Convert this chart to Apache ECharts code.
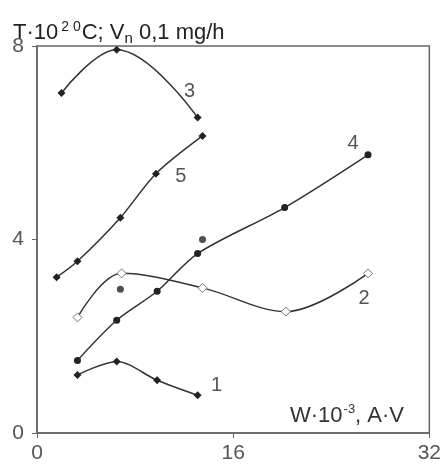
<!DOCTYPE html>
<html>
<head>
<meta charset="utf-8">
<script src="https://cdn.jsdelivr.net/npm/echarts@6/dist/echarts.min.js"></script>
<style>html,body{margin:0;padding:0;background:#fff}#c{width:444px;height:464px}</style>
</head>
<body>
<div id="c"></div>
<script>
// Data (x = W·10^-3, A·V ; y = T·10^2 °C)
var s1x = [3.3, 6.5, 9.8, 13.1];
var s1y = [1.2, 1.48, 1.09, 0.78];
var s2x = [3.3, 6.9, 13.5, 20.3, 27.0];
var s2y = [2.39, 3.3, 3.0, 2.51, 3.3];
var s3x = [2.0, 6.5, 13.1];
var s3y = [7.03, 7.92, 6.52];
var s4x = [3.3, 6.5, 9.8, 13.1, 20.2, 27.0];
var s4y = [1.5, 2.33, 2.93, 3.71, 4.66, 5.75];
var s5x = [1.6, 3.3, 6.8, 9.7, 13.5];
var s5y = [3.22, 3.55, 4.45, 5.36, 6.14];
var extraX = [6.8, 13.5];
var extraY = [2.97, 4.0];
var seriesNames = ['1', '2', '3', '4', '5'];
var xTicks = [0, 16, 32];
var yTicks = [0, 4, 8];

function pairs(xs, ys) { return xs.map(function (x, i) { return [x, ys[i]]; }); }

var FONT = 'Liberation Sans, Arial, sans-serif';
var lineColor = '#333';
var labelStyle = { color: '#555', fontSize: 20, fontFamily: FONT };

function withLabel(data, idx, name, offset) {
  return data.map(function (d, i) {
    if (i !== idx) return d;
    return { value: d, label: Object.assign({ show: true, position: 'inside', offset: offset, formatter: name }, labelStyle) };
  });
}

var chart = echarts.init(document.getElementById('c'), null, { renderer: 'canvas' });
var option = {
  animation: false,
  backgroundColor: '#fff',
  grid: { left: 37, right: 11, top: 46, bottom: 29, show: true, borderColor: '#666', borderWidth: 1.5, backgroundColor: 'transparent' },
  xAxis: {
    type: 'value', min: 0, max: 32, interval: 16,
    axisLine: { lineStyle: { color: '#666', width: 1.5 } },
    axisTick: { show: true, length: 5, lineStyle: { color: '#666' } },
    axisLabel: { color: '#555', fontSize: 21, fontFamily: FONT, margin: 10,
      formatter: function (v) { return xTicks.indexOf(v) >= 0 ? String(v) : ''; } },
    splitLine: { show: false }
  },
  yAxis: {
    type: 'value', min: 0, max: 8, interval: 4,
    axisLine: { show: true, lineStyle: { color: '#666', width: 1.5 } },
    axisTick: { show: true, length: 5, lineStyle: { color: '#666' } },
    axisLabel: { color: '#555', fontSize: 21, fontFamily: FONT, margin: 13,
      formatter: function (v) { return yTicks.indexOf(v) >= 0 ? String(v) : ''; } },
    splitLine: { show: false }
  },
  graphic: [
    {
      type: 'text', left: 13, top: 20,
      style: {
        text: '{m|T·10}{sup|2 0}{m|C; V}{sub|n}{m| 0,1 mg/h}',
        rich: {
          m: { fontSize: 22, fill: '#222', fontFamily: FONT, lineHeight: 26 },
          sup: { fontSize: 14, fill: '#222', fontFamily: FONT, verticalAlign: 'top', padding: [0, 1, 10, 3], lineHeight: 26 },
          sub: { fontSize: 15, fill: '#222', fontFamily: FONT, verticalAlign: 'bottom', padding: [8, 0, 0, 0], lineHeight: 26 }
        }
      }
    },
    {
      type: 'text', left: 290, top: 403,
      style: {
        text: '{m|W·10}{sup|-3}{m|, A·V}',
        rich: {
          m: { fontSize: 22, fill: '#333', fontFamily: FONT, lineHeight: 26 },
          sup: { fontSize: 13, fill: '#333', fontFamily: FONT, verticalAlign: 'top', padding: [0, 0, 10, 1], lineHeight: 26 }
        }
      }
    }
  ],
  series: [
    { name: seriesNames[0], type: 'line', smooth: 0.3, data: withLabel(pairs(s1x, s1y), 3, '1', [19, -10]),
      symbol: 'diamond', symbolSize: 8, itemStyle: { color: '#222' }, lineStyle: { color: lineColor, width: 1.5 } },
    { name: seriesNames[1], type: 'line', smooth: 0.35, data: withLabel(pairs(s2x, s2y), 4, '2', [-4, 25]),
      symbol: 'diamond', symbolSize: 9, showAllSymbol: true, itemStyle: { color: '#fff', borderColor: '#777', borderWidth: 1 }, lineStyle: { color: lineColor, width: 1.5 } },
    { name: seriesNames[2], type: 'line', smooth: 0.4, data: withLabel(pairs(s3x, s3y), 2, '3', [-8, -26]),
      symbol: 'diamond', symbolSize: 8, itemStyle: { color: '#222' }, lineStyle: { color: lineColor, width: 1.5 } },
    { name: seriesNames[3], type: 'line', smooth: 0.3, data: withLabel(pairs(s4x, s4y), 5, '4', [-15, -11]),
      symbol: 'circle', symbolSize: 7, itemStyle: { color: '#222' }, lineStyle: { color: lineColor, width: 1.5 } },
    { name: seriesNames[4], type: 'line', smooth: 0.3, data: withLabel(pairs(s5x, s5y), 3, '5', [25, 3]),
      symbol: 'diamond', symbolSize: 8, itemStyle: { color: '#222' }, lineStyle: { color: lineColor, width: 1.5 } },
    { name: 'extra', type: 'scatter', data: pairs(extraX, extraY), symbol: 'circle', symbolSize: 7, itemStyle: { color: '#222' } }
  ]
};
chart.setOption(option);
</script>
</body>
</html>
